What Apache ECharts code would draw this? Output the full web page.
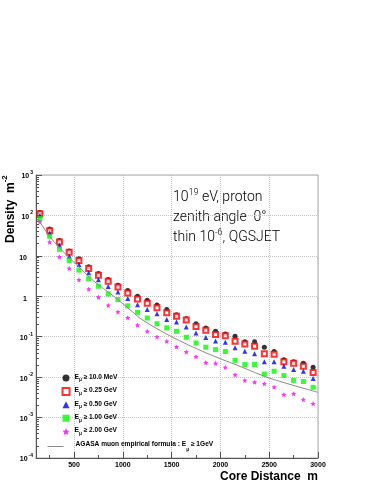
<!DOCTYPE html>
<html><head><meta charset="utf-8">
<script src="https://cdn.jsdelivr.net/npm/echarts@6/dist/echarts.min.js"></script>
<style>html,body{margin:0;padding:0;background:#fff}#c{width:382px;height:494px}</style>
</head><body><div id="c"></div>
<script>
// ---- data ----
const distances = [150,250,350,450,550,650,750,850,950,1050,1150,1250,1350,1450,1550,1650,1750,1850,1950,2050,2150,2250,2350,2450,2550,2650,2750,2850,2950];
const e10MeV  = [118,46,24,13.2,8.5,5.4,3.65,2.6,1.88,1.4,1.0,0.8,0.61,0.47,0.35,0.28,0.21,0.165,0.136,0.117,0.102,0.075,0.075,0.055,0.043,0.027,0.024,0.022,0.0175];
const e025GeV = [110,42,22,12.2,7.7,4.9,3.3,2.35,1.7,1.2,0.86,0.67,0.52,0.39,0.32,0.26,0.18,0.145,0.113,0.105,0.077,0.066,0.058,0.038,0.037,0.024,0.022,0.0185,0.013];
const e050GeV = [100,36.5,18.2,9.8,6.1,3.8,2.58,1.75,1.28,0.88,0.62,0.47,0.37,0.265,0.23,0.175,0.124,0.095,0.078,0.073,0.053,0.044,0.038,0.024,0.024,0.0185,0.0154,0.0139,0.0092];
const e100GeV = [84,30.5,14.5,7.6,4.45,2.72,1.78,1.14,0.83,0.58,0.40,0.29,0.21,0.166,0.136,0.097,0.07,0.055,0.048,0.043,0.026,0.0205,0.0206,0.012,0.014,0.011,0.0083,0.0078,0.0056];
const e200GeV = [69,22,9.4,4.9,2.55,1.5,0.95,0.6,0.41,0.295,0.195,0.136,0.099,0.077,0.056,0.042,0.032,0.023,0.022,0.0175,0.0115,0.0083,0.0075,0.0069,0.0057,0.0037,0.0039,0.0028,0.0022];
const agasaR       = [125,150,250,350,450,550,700,900,1100,1200,1500,1850,2200,2500,3000];
const agasaDensity = [80,68,30,16,9,5.3,2.4,1.03,0.41,0.26,0.10,0.04,0.0185,0.0095,0.0042];
const xTickValues = [500,1000,1500,2000,2500,3000];
const xMinorTickValues = [250,750,1250,1750,2250,2750];
const legendLabels = {
  e10MeV: '10.0 MeV', e025GeV: '0.25 GeV', e050GeV: '0.50 GeV', e100GeV: '1.00 GeV', e200GeV: '2.00 GeV'
};
const yMinorTickValues = [];
for (let d = -4; d <= 2; d++) for (let k = 2; k <= 9; k++) yMinorTickValues.push(k * Math.pow(10, d));

const FONT = 'Liberation Sans';
const STAR = 'path://M0,-10L2.94,-4.05L9.51,-3.09L4.76,1.55L5.88,8.09L0,5L-5.88,8.09L-4.76,1.55L-9.51,-3.09L-2.94,-4.05Z';
const pts = arr => distances.map((d, i) => [d, arr[i]]);

const chart = echarts.init(document.getElementById('c'), null, {renderer: 'canvas'});
const legendRich = {
  t: {fontFamily: FONT, fontWeight: 'bold', fontSize: 6.6, color: '#000', lineHeight: 9, verticalAlign: 'top'},
  sub: {fontFamily: FONT, fontWeight: 'bold', fontSize: 4.8, color: '#000', lineHeight: 5, verticalAlign: 'bottom'},
  pad: {width: 7}
};
const axLabelRich = {
  b: {fontFamily: FONT, fontWeight: 'bold', fontSize: 7, color: '#000', lineHeight: 10, verticalAlign: 'bottom'},
  s: {fontFamily: FONT, fontWeight: 'bold', fontSize: 5, color: '#000', lineHeight: 5, verticalAlign: 'top', padding: [0, 0, 0, 1]},
  sp: {width: 6}
};
const annRich = {
  a: {fontFamily: 'Roboto', fontWeight: 300, fontSize: 14, color: '#ababab', lineHeight: 16, verticalAlign: 'bottom'},
  s: {fontFamily: 'Roboto', fontWeight: 300, fontSize: 9, color: '#ababab', lineHeight: 9, verticalAlign: 'top'}
};

chart.setOption({
  animation: false,
  backgroundColor: '#fff',
  grid: {left: 36, top: 175, width: 282, height: 283, show: true, borderColor: '#aaa', borderWidth: 1, backgroundColor: 'transparent', containLabel: false, outerBoundsMode: 'none'},
  xAxis: [{
    type: 'value', min: 110, max: 3000, position: 'bottom',
    axisLine: {show: true, lineStyle: {color: '#555', width: 1}},
    axisTick: {show: true, inside: true, length: 6, customValues: xTickValues, lineStyle: {color: '#555'}},
    axisLabel: {show: true, customValues: xTickValues, margin: 4, fontFamily: FONT, fontWeight: 'bold', fontSize: 7, color: '#000', formatter: v => String(v)},
    splitLine: {show: true, lineStyle: {color: '#c4c4c4', type: 'dotted', width: 1}}
  }, {
    type: 'value', min: 110, max: 3000, position: 'bottom', gridIndex: 0,
    axisLine: {show: false},
    axisTick: {show: true, inside: true, length: 3, customValues: xMinorTickValues, lineStyle: {color: '#555'}},
    axisLabel: {show: false},
    splitLine: {show: false}
  }],
  yAxis: [{
    type: 'log', logBase: 10, min: 1e-4, max: 1e3, interval: 1, position: 'left',
    axisLine: {show: true, lineStyle: {color: '#555', width: 1}},
    axisTick: {show: true, inside: true, length: 6, lineStyle: {color: '#555'}},
    axisLabel: {
      show: true, margin: 3, showMinLabel: true, showMaxLabel: true, rich: axLabelRich,
      formatter: v => {
        const e = Math.round(Math.log10(v));
        if (e === 0) return '{b|1}{sp|}';
        if (e === 1) return '{b|10}{sp|}';
        return '{b|10}{s|' + e + '}';
      }
    },
    splitLine: {show: true, lineStyle: {color: '#c4c4c4', type: 'dotted', width: 1}}
  }, {
    type: 'log', logBase: 10, min: 1e-4, max: 1e3, position: 'left', gridIndex: 0,
    axisLine: {show: false},
    axisTick: {show: true, inside: true, length: 3, customValues: yMinorTickValues, lineStyle: {color: '#555'}},
    axisLabel: {show: false},
    splitLine: {show: false}
  }],
  legend: [{
    data: ['e10MeV', 'e025GeV', 'e050GeV', 'e100GeV', 'e200GeV'],
    orient: 'vertical', left: 61.5, top: 373.5, itemWidth: 7, itemHeight: 7, itemGap: 4.4,
    selectedMode: false, padding: 0,
    formatter: name => '{t|E}{sub|\u03bc}{t| \u2265 ' + legendLabels[name] + '}',
    textStyle: {rich: legendRich}
  }, {
    data: ['agasa'],
    orient: 'vertical', left: 47, top: 440.5, itemWidth: 16, itemHeight: 8,
    selectedMode: false, padding: 0,
    itemStyle: {opacity: 0},
    lineStyle: {width: 1, color: '#8c8c8c'},
    formatter: () => '{pad|}{t|AGASA muon empirical formula : E}{sub|\u03bc}{t| \u2265 1GeV}',
    textStyle: {rich: legendRich}
  }],
  series: [
    {name: 'e10MeV', type: 'scatter', data: pts(e10MeV), symbol: 'circle', symbolSize: 5, itemStyle: {color: '#000'}},
    {name: 'e025GeV', type: 'scatter', data: pts(e025GeV), symbol: 'emptyRect', symbolSize: 5, itemStyle: {color: '#ff0000', borderColor: '#ff0000', borderWidth: 1.5}},
    {name: 'e050GeV', type: 'scatter', data: pts(e050GeV), symbol: 'triangle', symbolSize: 5, itemStyle: {color: '#0000ff'}},
    {name: 'e100GeV', type: 'scatter', data: pts(e100GeV), symbol: 'rect', symbolSize: 5, itemStyle: {color: '#00ff00'}},
    {name: 'e200GeV', type: 'scatter', data: pts(e200GeV), symbol: STAR, symbolSize: 5, itemStyle: {color: '#ff00ff'}},
    {name: 'agasa', type: 'line', data: agasaR.map((r, i) => [r, agasaDensity[i]]), smooth: 0.3, showSymbol: false, symbol: 'none',
     lineStyle: {color: '#8c8c8c', width: 1}, itemStyle: {color: '#8c8c8c'}}
  ],
  graphic: [
    {type: 'text', x: 9, y: 243, rotation: Math.PI / 2,
     style: {text: '{t|Density  m}{s|-2}', textAlign: 'left', textVerticalAlign: 'middle',
       rich: {t: {fontFamily: FONT, fontWeight: 'bold', fontSize: 12, color: '#000', lineHeight: 16, verticalAlign: 'bottom'},
              s: {fontFamily: FONT, fontWeight: 'bold', fontSize: 8, color: '#000', lineHeight: 8, verticalAlign: 'top'}}}},
    {type: 'text', x: 318, y: 477,
     style: {text: 'Core Distance  m', textAlign: 'right', textVerticalAlign: 'middle', fontFamily: FONT, fontWeight: 'bold', fontSize: 12, fill: '#000'}},
    {type: 'text', x: 173, y: 196, style: {text: '{a|10}{s|19}{a| eV, proton}', textAlign: 'left', textVerticalAlign: 'middle', rich: annRich}},
    {type: 'text', x: 173, y: 216.5, style: {text: '{a|zenith angle  0°}', textAlign: 'left', textVerticalAlign: 'middle', rich: annRich}},
    {type: 'text', x: 173, y: 236.5, style: {text: '{a|thin 10}{s|-6}{a|, QGSJET}', textAlign: 'left', textVerticalAlign: 'middle', rich: annRich}}
  ]
});
</script>
</body></html>
